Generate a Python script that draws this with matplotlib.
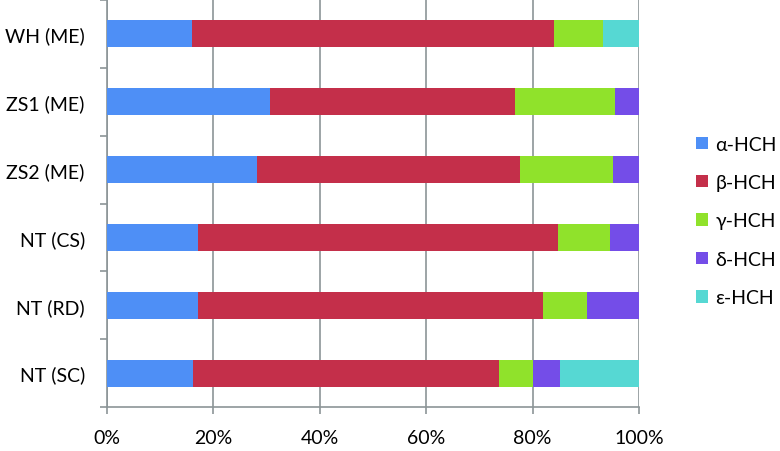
import matplotlib
matplotlib.use("Agg")
import matplotlib.pyplot as plt
from matplotlib.patches import Patch
import numpy as np

plt.rcParams.update({
    "font.family": ["Lato", "DejaVu Sans"],
    "font.size": 14,
})

SITES = ["WH (ME)", "ZS1 (ME)", "ZS2 (ME)", "NT (CS)", "NT (RD)", "NT (SC)"]
ALPHA = [16.0, 30.7, 28.2, 17.1, 17.1, 16.2]
BETA = [68.0, 46.0, 49.4, 67.6, 64.8, 57.4]
GAMMA = [9.3, 18.8, 17.5, 9.9, 8.4, 6.4]
DELTA = [0.0, 4.5, 4.9, 5.4, 9.7, 5.1]
EPSILON = [6.7, 0.0, 0.0, 0.0, 0.0, 14.9]
LABELS = ["α-HCH", "β-HCH", "γ-HCH", "δ-HCH", "ε-HCH"]
COLORS = ["#4e8ff6", "#c42f4a", "#90e22b", "#744de8", "#56d8d3"]
X_TICKS = [0, 20, 40, 60, 80, 100]

GRID_COLOR = "#8c9597"

fig = plt.figure(figsize=(7.8, 4.52), dpi=100)
ax = fig.add_axes([107 / 780, 44 / 452, 532 / 780, 407 / 452])

y = np.arange(len(SITES))
left = np.zeros(len(SITES))
for vals, color in zip([ALPHA, BETA, GAMMA, DELTA, EPSILON], COLORS):
    vals = np.array(vals)
    ax.barh(y, vals, left=left, height=0.4, color=color, zorder=3)
    left += vals

ax.set_xlim(0, 100)
ax.set_ylim(5.5, -0.5)
ax.set_xticks(X_TICKS)
ax.set_xticklabels([f"{v}%" for v in X_TICKS])
ax.set_yticks(y)
ax.set_yticklabels(SITES)
ax.set_yticks(np.arange(-0.5, 6.0, 1.0), minor=True)

ax.tick_params(axis="y", which="major", length=0, pad=16)
ax.tick_params(axis="y", which="minor", length=5, color=GRID_COLOR, width=1.2)
ax.tick_params(axis="x", length=5, color=GRID_COLOR, width=1.2, pad=11)

ax.grid(axis="x", color=GRID_COLOR, linewidth=1.2, zorder=0)
for side in ["top", "right"]:
    ax.spines[side].set_visible(False)
for side in ["left", "bottom"]:
    ax.spines[side].set_color(GRID_COLOR)
    ax.spines[side].set_linewidth(1.2)

handles = [Patch(facecolor=c, edgecolor="none") for c in COLORS]
fig.legend(handles, LABELS, loc="center left", bbox_to_anchor=(696 / 780, 1 - 222 / 452),
           frameon=False, handlelength=0.6, handleheight=0.6, handletextpad=0.4,
           labelspacing=1.1, borderpad=0, borderaxespad=0, fontsize=14)

fig.savefig("out.png", dpi=100)
